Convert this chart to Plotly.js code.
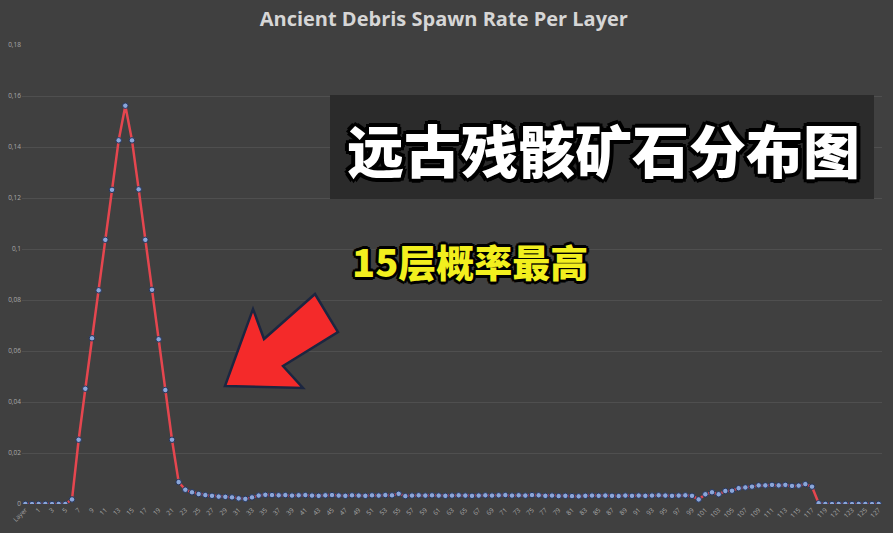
<!DOCTYPE html>
<html>
<head>
<meta charset="utf-8">
<script src="https://cdn.plot.ly/plotly-3.0.1.min.js"></script>
<style>html,body{margin:0;padding:0;background:#404040;}#chart{width:893px;height:533px;}</style>
</head>
<body>
<div id="chart"></div>
<script>
// ---- data ----
const layerLabels = ["Layer"].concat(Array.from({length: 128}, (_, i) => String(i)));
const spawnRate = [
  0, 0, 0, 0, 0, 0, 0, 0.0018, 0.0252, 0.0452,
  0.0650, 0.0838, 0.1036, 0.1232, 0.1426, 0.1562, 0.1426, 0.1234, 0.1036, 0.0840,
  0.0646, 0.0447, 0.0252, 0.0086, 0.0056, 0.0046, 0.0039, 0.0035, 0.0032, 0.0029,
  0.0028, 0.0026, 0.0022, 0.0020, 0.0026, 0.0033, 0.0036, 0.0035, 0.0034, 0.0035,
  0.0033, 0.0034, 0.0035, 0.0033, 0.0032, 0.0034, 0.0035, 0.0033, 0.0032, 0.0034,
  0.0033, 0.0032, 0.0034, 0.0033, 0.0035, 0.0034, 0.0040, 0.0031, 0.0033, 0.0034,
  0.0033, 0.0034, 0.0033, 0.0032, 0.0033, 0.0034, 0.0033, 0.0032, 0.0033, 0.0034,
  0.0033, 0.0034, 0.0035, 0.0033, 0.0034, 0.0033, 0.0035, 0.0034, 0.0032, 0.0033,
  0.0031, 0.0032, 0.0031, 0.0030, 0.0032, 0.0033, 0.0032, 0.0033, 0.0032, 0.0031,
  0.0033, 0.0032, 0.0033, 0.0032, 0.0033, 0.0034, 0.0033, 0.0032, 0.0033, 0.0034,
  0.0032, 0.0018, 0.0038, 0.0046, 0.0038, 0.0051, 0.0052, 0.0062, 0.0065, 0.0068,
  0.0073, 0.0073, 0.0075, 0.0073, 0.0075, 0.0071, 0.0072, 0.0078, 0.0068, 0.0003,
  0, 0, 0, 0, 0, 0, 0, 0, 0
];
const chartTitle = "Ancient Debris Spawn Rate Per Layer";
const bigLabel = "远古残骸矿石分布图";
const peakLabel = "15层概率最高";
const tickLabels = layerLabels.filter((_, i) => i % 2 === 0);

// ---- layout helpers ----
const W = 893, H = 533, M = {l: 22, r: 11, t: 45, b: 29};
const PW = W - M.l - M.r, PH = H - M.t - M.b;
const px = x => (x - M.l) / PW;
const py = y => (H - M.b - y) / PH;

const arrowPts = [[225,386],[303,388],[283,366],[338,332],[315,294],[264,339],[253,309]];
const arrowPath = "M " + arrowPts.map(p => px(p[0]).toFixed(4) + "," + py(p[1]).toFixed(4)).join(" L ") + " Z";

const outline = (w) => [
  `-${w}px -${w}px 0 #000`, `${w}px -${w}px 0 #000`, `-${w}px ${w}px 0 #000`, `${w}px ${w}px 0 #000`,
  `0 ${w+1}px 0 #000`, `${w+1}px 0 0 #000`, `-${w+1}px 0 0 #000`, `0 -${w+1}px 0 #000`
].join(", ");

const trace = {
  type: "scatter",
  mode: "lines+markers",
  x: layerLabels,
  y: spawnRate,
  line: {color: "#e5464f", width: 2.5},
  marker: {size: 5.5, color: "#8aa6d8", line: {color: "#26365e", width: 1}},
  hoverinfo: "x+y"
};

const layout = {
  width: W, height: H,
  margin: M,
  paper_bgcolor: "#404040",
  plot_bgcolor: "#404040",
  separators: ", ",
  showlegend: false,
  title: {
    text: chartTitle,
    x: 0.497, xref: "container", xanchor: "center",
    y: 1 - 19 / H, yref: "container", yanchor: "middle",
    font: {family: "Open Sans, sans-serif", size: 20, weight: "bold", color: "#d6d6d6"}
  },
  xaxis: {
    type: "category",
    range: [-0.5, layerLabels.length - 0.5],
    tickmode: "array",
    tickvals: tickLabels,
    ticktext: tickLabels,
    tickangle: -45,
    tickfont: {family: "Open Sans, sans-serif", size: 6.5, color: "#a8a8a8"},
    showgrid: false, zeroline: false, showline: false,
    ticks: "", automargin: false
  },
  yaxis: {
    range: [0, 0.18],
    tick0: 0, dtick: 0.02,
    tickfont: {family: "Open Sans, sans-serif", size: 6.5, color: "#a8a8a8"},
    gridcolor: "#4f4f4f", gridwidth: 1,
    zeroline: false, showline: false,
    ticks: "", automargin: false
  },
  shapes: [
    {type: "rect", xref: "paper", yref: "paper", x0: px(330), x1: px(874), y0: py(199), y1: py(95),
     fillcolor: "#2b2b2b", line: {width: 0}, layer: "above"},
    {type: "path", xref: "paper", yref: "paper", path: arrowPath,
     fillcolor: "#f42a2a", line: {color: "#1c2640", width: 2.5}, layer: "above"}
  ],
  annotations: [
    {text: bigLabel, xref: "paper", yref: "paper", x: px(603), y: py(148),
     xanchor: "center", yanchor: "middle", showarrow: false,
     font: {family: "Noto Sans CJK SC, sans-serif", size: 57, weight: 900, color: "#ffffff", shadow: outline(3)}},
    {text: peakLabel, xref: "paper", yref: "paper", x: px(350), y: py(260),
     xanchor: "left", yanchor: "middle", showarrow: false,
     font: {family: "Noto Sans CJK SC, sans-serif", size: 38, weight: 900, color: "#f2ef1e", shadow: outline(2)}}
  ]
};

Plotly.newPlot("chart", [trace], layout, {displayModeBar: false, staticPlot: true});
</script>
</body>
</html>
